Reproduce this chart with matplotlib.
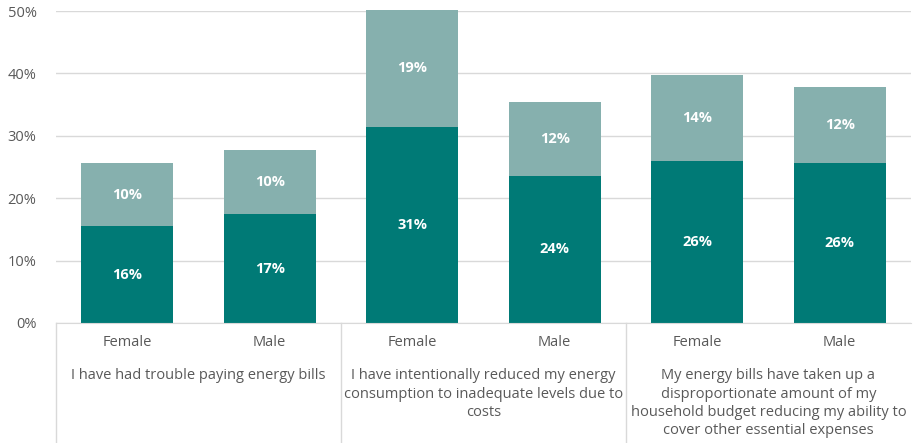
import matplotlib.pyplot as plt
from matplotlib import transforms

plt.rcParams['font.family'] = ['Open Sans', 'DejaVu Sans']

# data
genders = ["Female", "Male", "Female", "Male", "Female", "Male"]
groups = [
    "I have had trouble paying energy bills",
    "I have intentionally reduced my energy\nconsumption to inadequate levels due to\ncosts",
    "My energy bills have taken up a\ndisproportionate amount of my\nhousehold budget reducing my ability to\ncover other essential expenses",
]
base_vals = [15.5, 17.4, 31.4, 23.6, 25.9, 25.6]
top_vals = [10.1, 10.4, 18.8, 11.8, 13.9, 12.3]

dark = "#007A76"
light = "#86B0AE"
grey_txt = "#595959"
grid_col = "#D9D9D9"

fig = plt.figure(figsize=(9.2, 4.43), dpi=100)
ax = fig.add_axes([56 / 920, 120 / 443, 855 / 920, 312 / 443])

x = range(len(genders))
w = 0.645
b1 = ax.bar(x, base_vals, w, color=dark, zorder=2)
b2 = ax.bar(x, top_vals, w, bottom=base_vals, color=light, zorder=2)
for p in list(b1) + list(b2):
    p.set_clip_on(False)

for i in x:
    ax.text(i, base_vals[i] / 2, "%d%%" % round(base_vals[i]), ha="center", va="center",
            color="white", fontsize=10.5, fontweight="bold")
    ax.text(i, base_vals[i] + top_vals[i] / 2, "%d%%" % round(top_vals[i]), ha="center",
            va="center", color="white", fontsize=10.5, fontweight="bold")

ax.set_xlim(-0.5, len(genders) - 0.5)
ax.set_ylim(0, 50)
ax.set_yticks(range(0, 51, 10))
ax.set_yticklabels(["%d%%" % v for v in range(0, 51, 10)], color=grey_txt, fontsize=10.5)
ax.tick_params(axis="y", length=0, pad=14)
ax.yaxis.grid(True, color=grid_col, linewidth=1)
ax.set_axisbelow(True)
for s in ["top", "right", "left"]:
    ax.spines[s].set_visible(False)
ax.spines["bottom"].set_color(grid_col)

ax.set_xticks(list(x))
ax.set_xticklabels(genders, color=grey_txt, fontsize=10.5)
ax.tick_params(axis="x", length=0, pad=9)

trans = transforms.blended_transform_factory(ax.transData, ax.transAxes)
for i, g in enumerate(groups):
    ax.text(2 * i + 0.5, -0.145, g, transform=trans, ha="center", va="top",
            color=grey_txt, fontsize=10.5, linespacing=1.3)

# separators between category groups
for xs in [-0.5, 1.5, 3.5]:
    ax.plot([xs, xs], [0, -0.39], transform=trans, color=grid_col, linewidth=1,
            clip_on=False)

fig.savefig("out.png", dpi=100)
